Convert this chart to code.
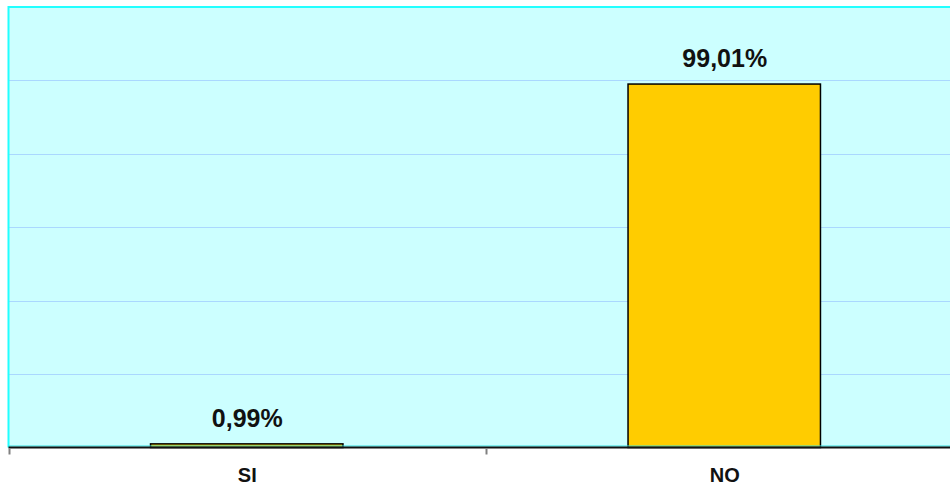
<!DOCTYPE html>
<html lang="es">
  <head>
    <meta charset="UTF-8" />
    <title>SI / NO</title>
    <style>
      body {
        margin: 0;
        background: #fff;
        font-family: "Liberation Sans", Arial, sans-serif;
      }
      svg {
        display: block;
      }
    </style>
  </head>
  <body>
    <svg id="chart"></svg>

    <script src="https://d3js.org/d3.v7.min.js"></script>
    <script>
      const width = 950;
      const height = 486;

      const categories = ["SI", "NO"];
      const values = [0.99, 99.01];
      const valueLabels = ["0,99%", "99,01%"];
      const yTicks = [0, 20, 40, 60, 80, 100, 120];

      // plot area runs a bit past the right edge, like the original
      const plot = { left: 8.5, right: 963.5, top: 7, bottom: 447.5 };

      const svg = d3
        .select("#chart")
        .attr("width", width)
        .attr("height", height);

      const x = d3
        .scaleBand()
        .domain(categories)
        .range([plot.left, plot.right])
        .padding(0);

      const y = d3
        .scaleLinear()
        .domain([0, 120])
        .range([plot.bottom, plot.top]);

      const barWidth = x.bandwidth() * 0.403;

      // background
      svg
        .append("rect")
        .attr("x", plot.left)
        .attr("y", plot.top)
        .attr("width", plot.right - plot.left)
        .attr("height", plot.bottom - plot.top)
        .attr("fill", "#ccffff");

      // gridlines
      svg
        .append("g")
        .selectAll("line")
        .data(yTicks.slice(1, -1))
        .join("line")
        .attr("x1", plot.left)
        .attr("x2", plot.right)
        .attr("y1", (d) => Math.round(y(d)) + 0.5)
        .attr("y2", (d) => Math.round(y(d)) + 0.5)
        .attr("stroke", "#aad8ff")
        .attr("stroke-width", 1);

      // cyan frame (top and left)
      svg
        .append("path")
        .attr(
          "d",
          `M${plot.left},${plot.bottom} V${plot.top} H${plot.right}`
        )
        .attr("fill", "none")
        .attr("stroke", "#22ffff")
        .attr("stroke-width", 2);

      // bars
      svg
        .append("g")
        .selectAll("rect")
        .data(categories)
        .join("rect")
        .attr("x", (d) => x(d) + (x.bandwidth() - barWidth) / 2 - 0.5)
        .attr("y", (d, i) => y(values[i]))
        .attr("width", barWidth)
        .attr("height", (d, i) => y(0) - y(values[i]))
        .attr("fill", "#ffcc00")
        .attr("stroke", "#000")
        .attr("stroke-width", 1.5);

      // value labels
      svg
        .append("g")
        .selectAll("text")
        .data(categories)
        .join("text")
        .attr("x", (d) => x(d) + x.bandwidth() / 2)
        .attr("y", (d, i) => y(values[i]) - 17)
        .attr("text-anchor", "middle")
        .attr("font-size", 25)
        .attr("font-weight", "bold")
        .attr("fill", "#111")
        .text((d, i) => valueLabels[i]);

      // x axis
      const xAxis = svg
        .append("g")
        .attr("transform", `translate(0,${plot.bottom})`);

      xAxis
        .append("line")
        .attr("x1", plot.left)
        .attr("x2", plot.right)
        .attr("y1", -1.5)
        .attr("y2", -1.5)
        .attr("stroke", "#33dddd")
        .attr("stroke-width", 1);

      xAxis
        .append("line")
        .attr("x1", plot.left)
        .attr("x2", plot.right)
        .attr("y1", 0)
        .attr("y2", 0)
        .attr("stroke", "#111")
        .attr("stroke-width", 2);

      const tickPositions = categories.map((d) => x(d)).concat([plot.right]);
      xAxis
        .selectAll("line.tick")
        .data(tickPositions)
        .join("line")
        .attr("class", "tick")
        .attr("x1", (d) => Math.round(d) + 0.5)
        .attr("x2", (d) => Math.round(d) + 0.5)
        .attr("y1", 1)
        .attr("y2", 7)
        .attr("stroke", "#808080")
        .attr("stroke-width", 2);

      xAxis
        .selectAll("text")
        .data(categories)
        .join("text")
        .attr("x", (d) => x(d) + x.bandwidth() / 2)
        .attr("y", 34.5)
        .attr("text-anchor", "middle")
        .attr("font-size", 20)
        .attr("font-weight", "bold")
        .attr("fill", "#111")
        .text((d) => d);
    </script>
  </body>
</html>
